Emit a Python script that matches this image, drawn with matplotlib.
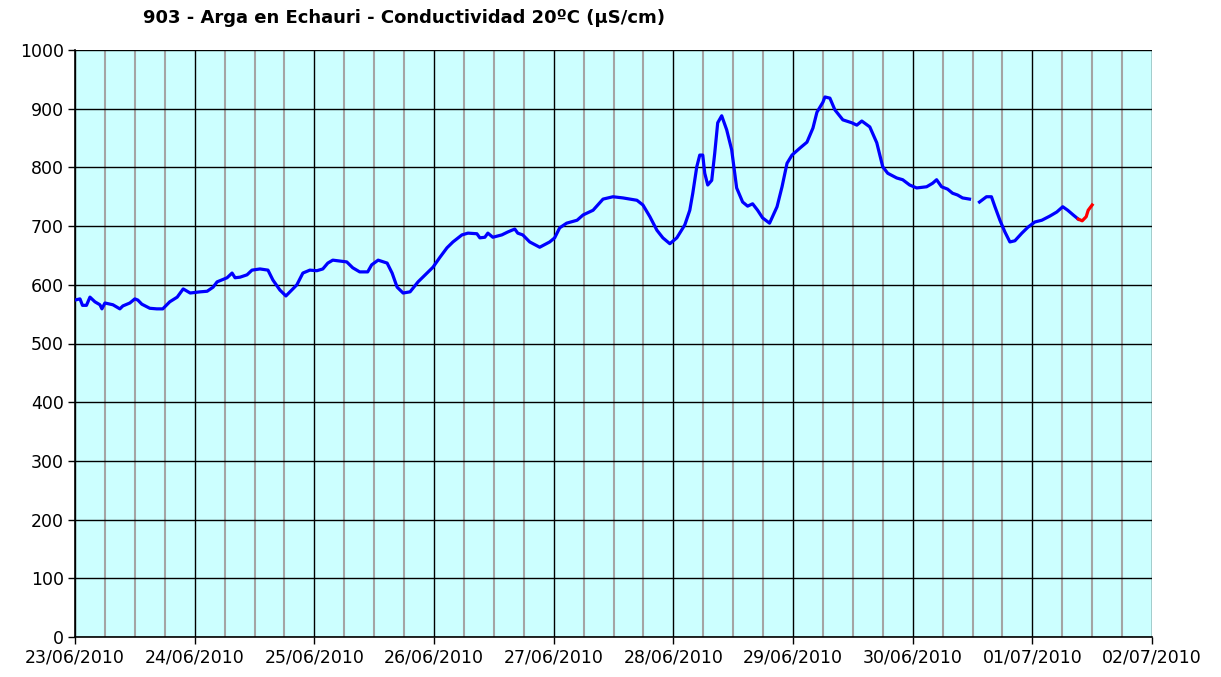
import datetime as dt
import numpy as np
import matplotlib
matplotlib.use("Agg")
import matplotlib.pyplot as plt
import matplotlib.dates as mdates

# hours since 23/06/2010 00:00, conductivity (uS/cm)
hours_a = [0, 1.0, 1.5, 2.3, 3.0, 4.0, 5.0, 5.4, 6.0, 7.6, 9.0, 9.6, 11.0, 12.0, 12.6, 13.4,
           15.0, 16.4, 17.6, 19.0, 20.5, 21.7, 23.1, 25.1, 26.5, 27.7, 28.5, 30.5, 31.5, 32.1,
           33.1, 34.5, 35.5, 37.1, 38.7, 39.7, 41.1, 42.3, 43.1, 44.5, 45.7, 47.1, 48.5, 49.7,
           50.7, 51.7, 54.5, 55.7, 57.1, 58.7, 59.5, 60.8, 62.6, 63.6, 64.6, 65.8, 67.2, 68.8,
           70.6, 71.8, 73.2, 74.6, 75.8, 77.6, 78.8, 80.6, 81.2, 82.2, 82.8, 83.8, 85.6, 86.8,
           88.2, 88.8, 89.8, 91.2, 93.2, 95.2, 96.2, 97.2, 98.6, 100.7, 101.9, 103.9, 105.9,
           107.9, 109.9, 112.7, 113.9, 115.3, 116.7, 117.9, 119.3, 120.7, 122.3, 123.3, 123.9,
           124.7, 125.3, 125.9, 126.3, 126.9, 127.7, 128.3, 128.9, 129.7, 130.7, 131.7, 132.7,
           133.9, 134.9, 135.9, 136.9, 137.9, 139.3, 140.8, 141.8, 142.8, 143.8, 145.4, 146.8,
           148.0, 148.8, 150.0, 150.4, 151.4, 152.4, 154.0, 155.8, 156.8, 157.8, 159.4, 160.8,
           162.0, 163.0, 164.8, 166.0, 167.4, 168.8, 170.8, 172.0, 172.8, 173.8, 175.0, 176.0,
           177.0, 178.0, 179.4]
vals_a = [574, 576, 565, 565, 579, 571, 566, 559, 569, 566, 559, 564, 569, 576, 574, 567,
          560, 559, 559, 571, 579, 593, 586, 588, 589, 596, 605, 612, 620, 612,
          613, 617, 625, 627, 625, 608, 591, 581, 588, 600, 620, 625, 624, 627,
          637, 642, 639, 629, 622, 622, 634, 642, 637, 620, 596, 586, 588, 605,
          620, 630, 647, 663, 673, 685, 688, 687, 680, 681, 688, 681, 685, 690,
          695, 688, 685, 673, 664, 673, 680, 697, 705, 710, 719, 727, 746,
          750, 748, 744, 736, 716, 693, 680, 670, 680, 702, 727, 756,
          801, 821, 821, 790, 770, 778, 824, 876, 888, 864, 830, 765,
          741, 734, 738, 727, 714, 705, 733, 767, 807, 821, 833, 843,
          867, 894, 911, 920, 918, 898, 881, 876, 872, 879, 869, 842,
          801, 790, 782, 779, 770, 765, 767, 773, 779, 767, 763, 756,
          753, 748, 746]
hours_b = [181.4, 182.8, 183.8, 184.5, 185.5, 186.5, 187.5, 188.5, 189.9, 191.1, 192.5,
           193.9, 195.5, 196.9, 198.1, 199.1, 200.2, 201.2]
vals_b = [741, 750, 750, 733, 710, 690, 673, 675, 688, 698, 707,
          710, 717, 724, 733, 727, 719, 712]
hours_red = [201.2, 202.0, 202.8, 203.2, 204.0]
vals_red = [712, 709, 716, 727, 736]

title = "903 - Arga en Echauri - Conductividad 20ºC (µS/cm)"
start = dt.datetime(2010, 6, 23)


def to_dates(hrs):
    return [start + dt.timedelta(hours=h) for h in hrs]


fig = plt.figure(figsize=(12.21, 6.77), dpi=100)
ax = fig.add_axes([75 / 1221, 1 - 637 / 677, 1077 / 1221, 587 / 677])
ax.set_facecolor("#ccffff")

ax.plot(to_dates(hours_a), vals_a, color="#0000ff", lw=2.3, zorder=3)
ax.plot(to_dates(hours_b), vals_b, color="#0000ff", lw=2.3, zorder=3)
ax.plot(to_dates(hours_red), vals_red, color="#ff0000", lw=2.3, zorder=3)

ax.set_xlim(start, start + dt.timedelta(days=9))
ax.set_ylim(0, 1000)
ax.set_yticks(np.arange(0, 1001, 100))
ax.xaxis.set_major_locator(mdates.DayLocator())
ax.xaxis.set_major_formatter(mdates.DateFormatter("%d/%m/%Y"))
ax.xaxis.set_minor_locator(mdates.HourLocator(byhour=[6, 12, 18]))

ax.grid(which="major", axis="both", color="black", lw=1.0, zorder=1)
ax.grid(which="minor", axis="x", color="#a4a4a4", lw=1.5, zorder=0)
ax.set_axisbelow(True)

for s in ["top", "right"]:
    ax.spines[s].set_visible(False)
ax.spines["left"].set_linewidth(1.2)
ax.spines["bottom"].set_linewidth(1.2)
ax.tick_params(axis="both", which="major", direction="out", length=5, width=1.0,
               labelsize=12.5, pad=3)
ax.tick_params(axis="x", which="minor", length=0)

fig.text(143 / 1221, 1 - 18 / 677, title, fontsize=13, fontweight="bold",
         ha="left", va="center")

fig.savefig("out.png", dpi=100)
